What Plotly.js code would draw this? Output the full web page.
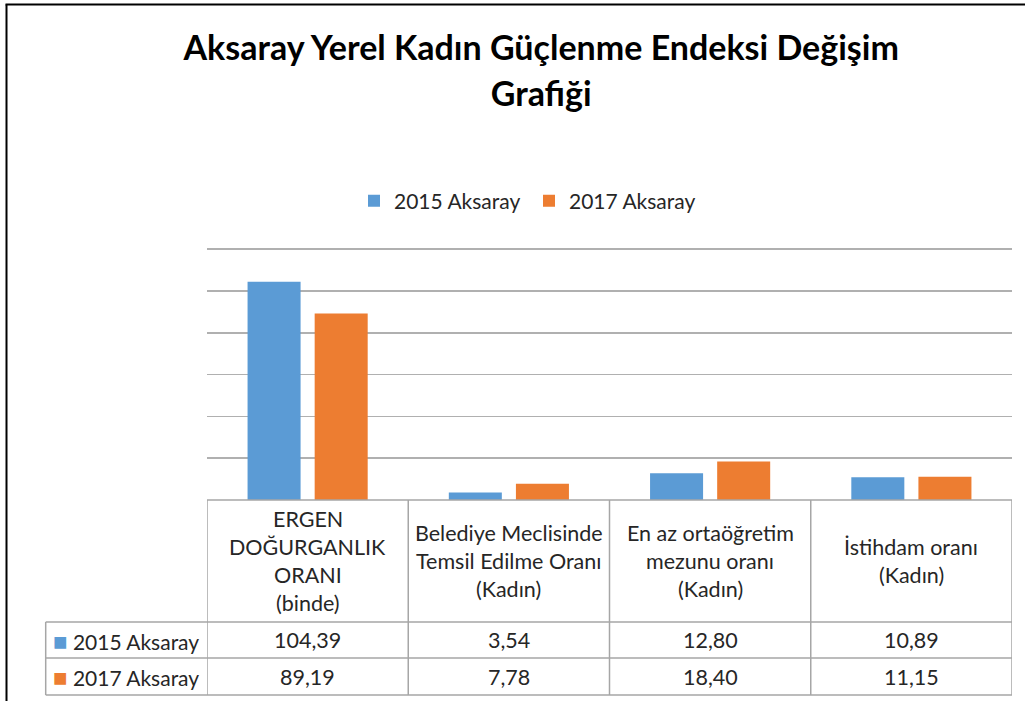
<!DOCTYPE html>
<html>
<head>
<meta charset="utf-8">
<script src="https://cdn.plot.ly/plotly-3.0.1.min.js"></script>
<style>html,body{margin:0;padding:0;background:#fff;}#chart{width:1025px;height:701px;}</style>
</head>
<body>
<div id="chart"></div>
<script>
// ---- data ----
const categories = [
  "ERGEN<br>DOĞURGANLIK<br>ORANI<br>(binde)",
  "Belediye Meclisinde<br>Temsil Edilme Oranı<br>(Kadın)",
  "En az ortaöğretim<br>mezunu oranı<br>(Kadın)",
  "İstihdam oranı<br>(Kadın)"
];
const seriesNames = ["2015 Aksaray", "2017 Aksaray"];
const values2015 = [104.39, 3.54, 12.80, 10.89];
const values2017 = [89.19, 7.78, 18.40, 11.15];
const yTicks = [0, 20, 40, 60, 80, 100, 120];
const titleLines = ["Aksaray Yerel Kadın Güçlenme Endeksi Değişim", "Grafiği"];

// ---- styles ----
const colors = ["#5b9bd5", "#ed7d31"];
const FONT = "Lato, 'Open Sans', sans-serif";
const TXT = "#262626";
const LINE = "#a6a6a6";
const TSIZE = 21.5;

// pixel helpers (plot area: x 207..1012, y 246..500; value 120 lands at y≈249)
const PL = 207, PR = 1012, PT = 246, PB = 500;
const Y_PAD = 1.5;
const px2x = p => (p - PL) / (PR - PL);
const py2y = p => (PB - p) / (PB - PT);

const xIdx = categories.map((_, i) => i);
const allSeries = [values2015, values2017];

const traces = allSeries.map((vals, s) => ({
  type: "bar",
  name: seriesNames[s],
  x: xIdx,
  y: vals,
  marker: {color: colors[s], line: {width: 0}},
  hoverinfo: "y+name"
}));

const fmt = v => v.toFixed(2).replace(".", ",");

const shapes = [];
const annotations = [];

// table geometry
const tTop = PB, tHead = 622, tRow1 = 658, tBot = 695, tLeft = 45.7;
for (let i = 0; i <= categories.length; i++) {
  shapes.push({type: "line", xref: "x", yref: "paper", x0: i - 0.5, x1: i - 0.5,
    y0: py2y(tTop), y1: py2y(tBot), line: {color: LINE, width: 1.5}});
}
shapes.push({type: "line", xref: "paper", yref: "paper", x0: px2x(tLeft), x1: px2x(tLeft),
  y0: py2y(tHead), y1: py2y(tBot), line: {color: LINE, width: 1.5}});
[tHead, tRow1, tBot].forEach(py => shapes.push({type: "line", xref: "paper", yref: "paper",
  x0: px2x(tLeft), x1: 1, y0: py2y(py), y1: py2y(py), line: {color: LINE, width: 1.5}}));
shapes.push({type: "line", xref: "paper", yref: "paper", x0: 0, x1: 1, y0: 0, y1: 0,
  line: {color: LINE, width: 1.5}});
// outer black frame (top + left)
shapes.push({type: "line", xref: "paper", yref: "paper", x0: px2x(5.5), x1: px2x(1030),
  y0: py2y(4.5), y1: py2y(4.5), line: {color: "#000", width: 2}});
shapes.push({type: "line", xref: "paper", yref: "paper", x0: px2x(6.5), x1: px2x(6.5),
  y0: py2y(4.5), y1: py2y(710), line: {color: "#000", width: 2}});

// header labels (one annotation per line)
const headCenter = (tTop + tHead) / 2, lineGap = 28;
categories.forEach((c, i) => {
  const lines = c.split("<br>");
  lines.forEach((ln, k) => {
    const py = headCenter + (k - (lines.length - 1) / 2) * lineGap;
    annotations.push({xref: "x", yref: "paper", x: i, y: py2y(py), text: ln,
      showarrow: false, xanchor: "center", yanchor: "middle",
      font: {family: FONT, size: TSIZE, color: TXT}});
  });
});
// row labels and values
const rowCenters = [(tHead + tRow1) / 2, (tRow1 + tBot) / 2];
allSeries.forEach((vals, s) => {
  annotations.push({xref: "paper", yref: "paper", x: px2x(51), y: py2y(rowCenters[s]),
    text: '<span style="color:' + colors[s] + ';font-size:24px">■</span> ' + seriesNames[s],
    showarrow: false, xanchor: "left", yanchor: "middle",
    font: {family: FONT, size: 21, color: TXT}});
  vals.forEach((v, i) => {
    annotations.push({xref: "x", yref: "paper", x: i, y: py2y(rowCenters[s]), text: fmt(v),
      showarrow: false, xanchor: "center", yanchor: "middle",
      font: {family: FONT, size: TSIZE, color: TXT}});
  });
});

const titleText = titleLines.map(t => '<span style="font-size:34px">' + t + '</span>').join("<br>");

const layout = {
  width: 1025, height: 701,
  margin: {l: PL, r: 1025 - PR, t: PT, b: 701 - PB, pad: 0},
  paper_bgcolor: "#fff", plot_bgcolor: "#fff",
  font: {family: FONT, color: TXT},
  title: {text: titleText, x: 0.528, xanchor: "center", y: 0.914, yanchor: "top",
    font: {family: FONT, size: 35, weight: "bold", color: "#000"}},
  barmode: "group", bargap: 0.333, bargroupgap: 0.21,
  xaxis: {range: [-0.5, categories.length - 0.5], showticklabels: false, showgrid: false,
    zeroline: false, showline: false, ticks: "", fixedrange: true},
  yaxis: {range: [yTicks[0], yTicks[yTicks.length - 1] + Y_PAD], tickvals: yTicks, showticklabels: false,
    showgrid: true, gridcolor: "#b0b0b0", gridwidth: 1.5, zeroline: false, showline: false,
    ticks: "", fixedrange: true},
  showlegend: true,
  legend: {orientation: "h", x: px2x(354), xanchor: "left", y: py2y(201), yanchor: "middle",
    font: {family: FONT, size: 21, color: TXT}, itemwidth: 30, entrywidth: 130,
    bgcolor: "rgba(0,0,0,0)"},
  shapes: shapes,
  annotations: annotations
};

Plotly.newPlot("chart", traces, layout, {displayModeBar: false, staticPlot: true});
</script>
</body>
</html>
